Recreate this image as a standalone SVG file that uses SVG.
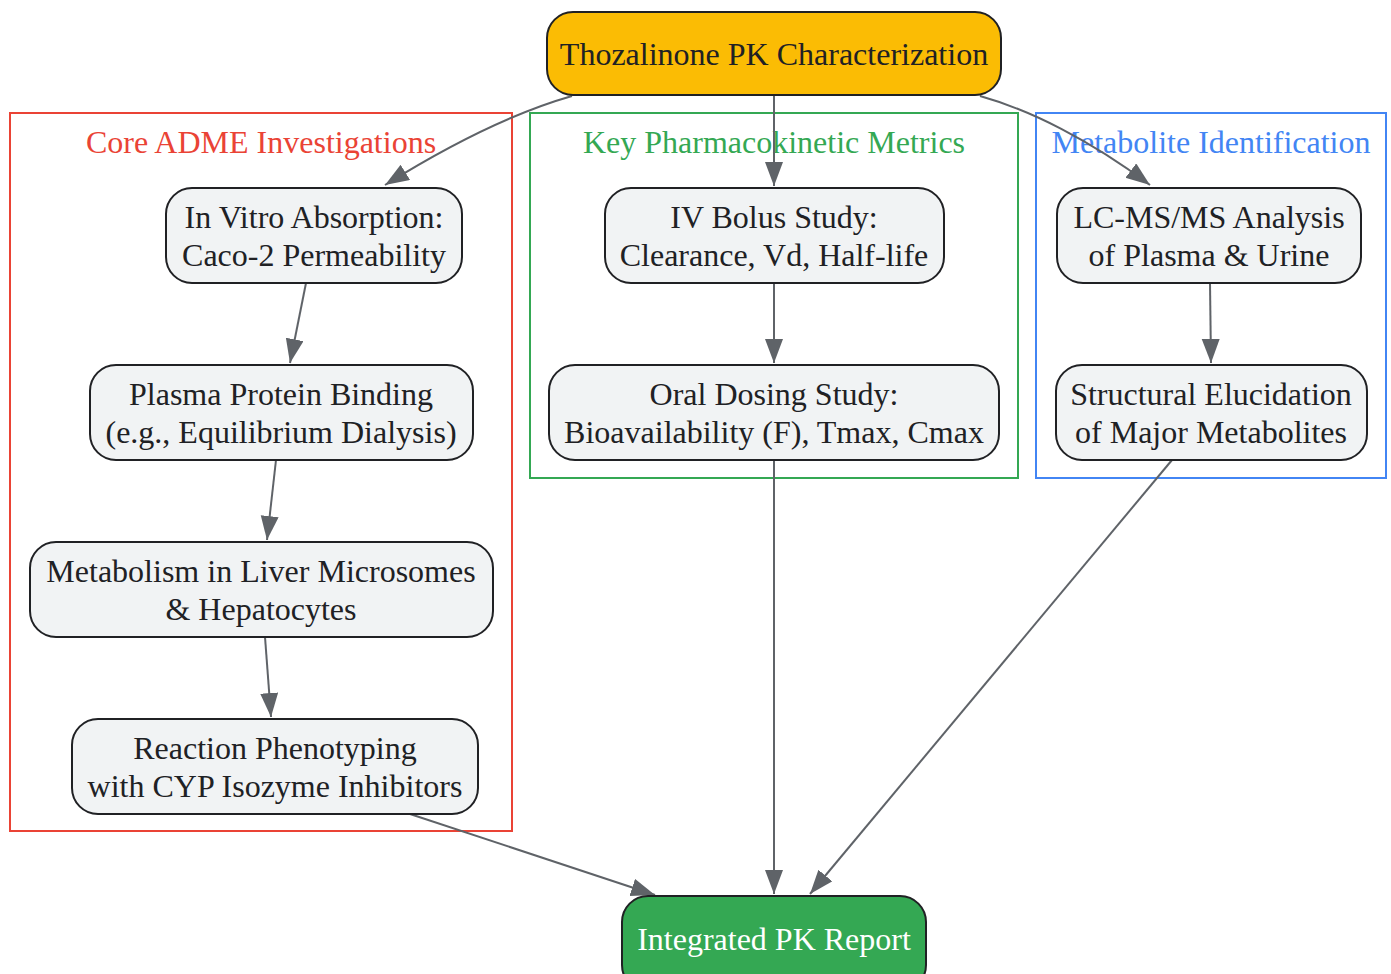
<svg xmlns="http://www.w3.org/2000/svg" width="1391" height="974" viewBox="0 0 1391 974">
<defs>
<marker id="ah" markerUnits="userSpaceOnUse" markerWidth="26" markerHeight="20" refX="24" refY="9" orient="auto">
<path d="M0,0 L24,9 L0,18 Z" fill="#5f6368"/>
</marker>
<style>
text{font-family:"Liberation Serif","Times New Roman",serif;font-size:32px;text-anchor:middle}
.n rect{fill:#f1f3f4;stroke:#202124;stroke-width:2}
.n text{fill:#202124}
.e path{fill:none;stroke:#5f6368;stroke-width:2;marker-end:url(#ah)}
.cl{fill:none;stroke-width:2}
</style>
</defs>
<rect width="1391" height="974" fill="#ffffff"/>
<g id="cluster_adme">
<rect class="cl" x="10" y="113" width="502" height="718" stroke="#ea4335"/>
<text x="261" y="153" fill="#ea4335">Core ADME Investigations</text>
</g>
<g id="cluster_pk">
<rect class="cl" x="530" y="113" width="488" height="365" stroke="#34a853"/>
<text x="774" y="153" fill="#34a853">Key Pharmacokinetic Metrics</text>
</g>
<g id="cluster_met">
<rect class="cl" x="1036" y="113" width="350" height="365" stroke="#4285f4"/>
<text x="1211" y="153" fill="#4285f4">Metabolite Identification</text>
</g>
<g id="edges" class="e">
<path d="M572,96 C530,108 470,132 385,185"/>
<path d="M774,96 L774,186"/>
<path d="M980,96 C1030,110 1090,140 1150,185"/>
<path d="M306,283 L290,363"/>
<path d="M276,460 L267,540"/>
<path d="M265,637 L271,717"/>
<path d="M774,283 L774,363"/>
<path d="M1210,283 L1211,363"/>
<path d="M410,814 L655,895"/>
<path d="M774,460 L774,894"/>
<path d="M1172,460 L810,894"/>
</g>
<g id="n_top" class="n">
<rect x="547" y="12" width="454" height="83" rx="26" style="fill:#fbbc04"/>
<text x="774" y="65">Thozalinone PK Characterization</text>
</g>
<g id="n_invitro" class="n">
<rect x="166" y="188" width="296" height="95" rx="26"/>
<text x="314" y="228">In Vitro Absorption:</text>
<text x="314" y="266">Caco-2 Permeability</text>
</g>
<g id="n_ppb" class="n">
<rect x="90" y="365" width="383" height="95" rx="26"/>
<text x="281" y="405">Plasma Protein Binding</text>
<text x="281" y="443">(e.g., Equilibrium Dialysis)</text>
</g>
<g id="n_metab" class="n">
<rect x="30" y="542" width="463" height="95" rx="26"/>
<text x="261" y="582">Metabolism in Liver Microsomes</text>
<text x="261" y="620">&amp; Hepatocytes</text>
</g>
<g id="n_react" class="n">
<rect x="72" y="719" width="406" height="95" rx="26"/>
<text x="275" y="759">Reaction Phenotyping</text>
<text x="275" y="797">with CYP Isozyme Inhibitors</text>
</g>
<g id="n_iv" class="n">
<rect x="605" y="188" width="339" height="95" rx="26"/>
<text x="774" y="228">IV Bolus Study:</text>
<text x="774" y="266">Clearance, Vd, Half-life</text>
</g>
<g id="n_oral" class="n">
<rect x="549" y="365" width="450" height="95" rx="26"/>
<text x="774" y="405">Oral Dosing Study:</text>
<text x="774" y="443">Bioavailability (F), Tmax, Cmax</text>
</g>
<g id="n_lcms" class="n">
<rect x="1057" y="188" width="304" height="95" rx="26"/>
<text x="1209" y="228">LC-MS/MS Analysis</text>
<text x="1209" y="266">of Plasma &amp; Urine</text>
</g>
<g id="n_struct" class="n">
<rect x="1056" y="365" width="311" height="95" rx="26"/>
<text x="1211" y="405">Structural Elucidation</text>
<text x="1211" y="443">of Major Metabolites</text>
</g>
<g id="n_report" class="n">
<rect x="622" y="896" width="304" height="95" rx="26" style="fill:#34a853"/>
<text x="774" y="950" style="fill:#ffffff">Integrated PK Report</text>
</g>
</svg>
